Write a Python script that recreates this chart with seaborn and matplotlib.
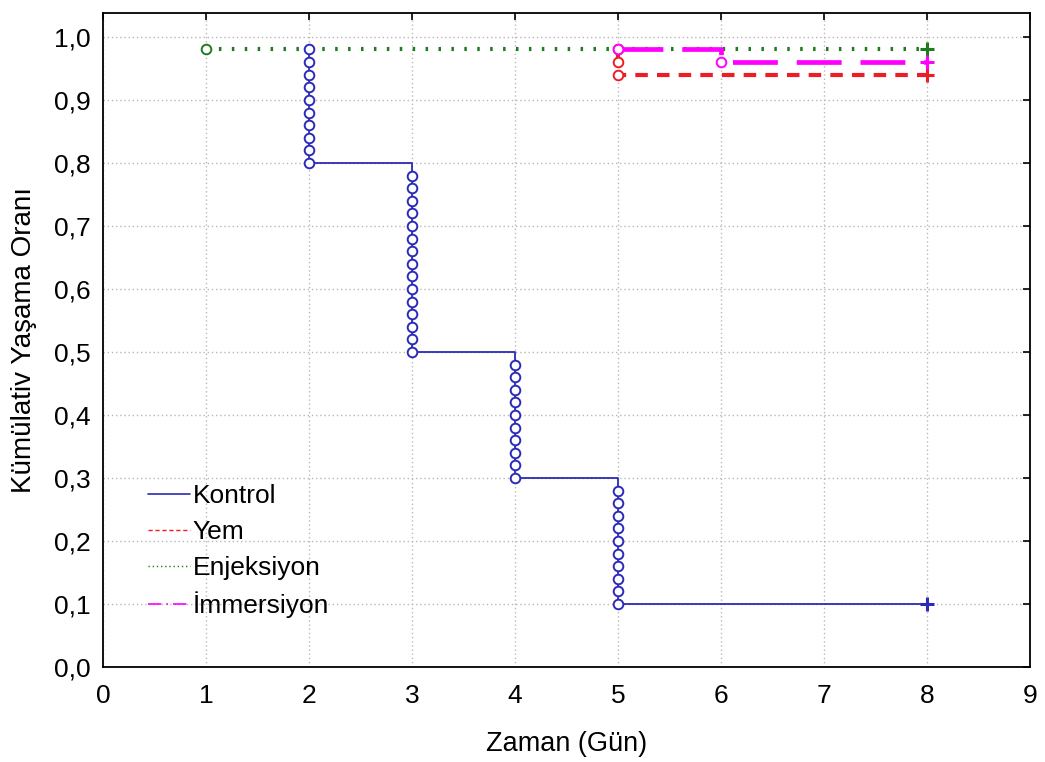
import numpy as np
import pandas as pd
import seaborn as sns
import matplotlib.pyplot as plt
from matplotlib.lines import Line2D

# fish per group, deaths per day read from the stacked circles
n_fish = 50
end_day = 8

kontrol_days = [2, 3, 4, 5]
kontrol_deaths = [10, 15, 10, 10]

yem_days = [5]
yem_deaths = [3]

enjeksiyon_days = [1]
enjeksiyon_deaths = [1]

immersiyon_days = [5, 6]
immersiyon_deaths = [1, 1]

groups = ["Kontrol", "Yem", "Enjeksiyon", "İmmersiyon"]
colors = {"Kontrol": "#2b2bb8", "Yem": "#ee1c24", "Enjeksiyon": "#1e7b1e", "İmmersiyon": "#ff00ff"}
widths = {"Kontrol": 1.3, "Yem": 3.0, "Enjeksiyon": 3.0, "İmmersiyon": 3.4}
dashes = {"Kontrol": "", "Yem": (3.0, 2.2), "Enjeksiyon": (0.6, 2.5), "İmmersiyon": (9.5, 4.0)}

event_data = {
    "Kontrol": (kontrol_days, kontrol_deaths),
    "Yem": (yem_days, yem_deaths),
    "Enjeksiyon": (enjeksiyon_days, enjeksiyon_deaths),
    "İmmersiyon": (immersiyon_days, immersiyon_deaths),
}

# every single death becomes one circle on the curve
rows = []
for g in groups:
    days, deaths = event_data[g]
    dead = 0
    for d, k in zip(days, deaths):
        for _ in range(k):
            dead += 1
            rows.append({"gun": d, "oran": (n_fish - dead) / n_fish, "grup": g, "tip": "olay"})
    rows.append({"gun": end_day, "oran": (n_fish - dead) / n_fish, "grup": g, "tip": "son"})
df = pd.DataFrame(rows)

sns.set_style("white")
plt.rcParams["font.family"] = ["Liberation Sans", "DejaVu Sans"]
plt.rcParams["text.color"] = "black"
plt.rcParams["axes.labelcolor"] = "black"

fig = plt.figure(figsize=(10.45, 7.62), dpi=100)
ax = fig.add_axes([0.0986, 0.1247, 0.887, 0.8583])

sns.lineplot(data=df, x="gun", y="oran", hue="grup", style="grup", size="grup",
             hue_order=groups, palette=colors, dashes=dashes, sizes=widths,
             estimator=None, sort=False, drawstyle="steps-post", legend=False, ax=ax, zorder=3)

events = df[df["tip"] == "olay"]
for g in groups:
    sub = events[events["grup"] == g]
    ax.scatter(sub["gun"], sub["oran"], s=48, facecolor="white", edgecolor=colors[g],
               linewidth=1.4, zorder=4)

ends = df[df["tip"] == "son"]
for g in groups:
    sub = ends[ends["grup"] == g]
    ax.scatter(sub["gun"], sub["oran"], s=110, marker="+", color=colors[g], linewidth=2.2, zorder=5)

ax.set_xlim(0, 9)
ax.set_ylim(0, 1.038)
ax.set_xticks(range(0, 10))
yt = np.round(np.arange(0, 1.01, 0.1), 1)
ax.set_yticks(yt)
ax.set_yticklabels([f"{v:.1f}".replace(".", ",") for v in yt])

ax.grid(True, linestyle=(0, (1, 2)), color="#b8b8b8", linewidth=1)
for s in ax.spines.values():
    s.set_color("black")
    s.set_linewidth(1.3)
ax.tick_params(direction="in", length=5, width=1.2, top=True, right=True,
               labelsize=19, colors="black", pad=9)
ax.tick_params(axis="x", pad=12)

ax.set_xlabel("Zaman (Gün)", fontsize=19.5, labelpad=17)
ax.set_ylabel("Kümülativ Yaşama Oranı", fontsize=20, labelpad=12)

handles = [
    Line2D([], [], color=colors["Kontrol"], linewidth=1.2),
    Line2D([], [], color=colors["Yem"], linewidth=1.0, dashes=(3, 2)),
    Line2D([], [], color=colors["Enjeksiyon"], linewidth=1.0, dashes=(1, 2)),
    Line2D([], [], color=colors["İmmersiyon"], linewidth=1.2, dashes=(8, 3, 1, 3)),
]
ax.legend(handles, groups, loc="lower left", bbox_to_anchor=(0.037, 0.058), frameon=False,
          fontsize=19, handlelength=1.6, handletextpad=0.1, labelspacing=0.45, borderaxespad=0)

plt.savefig("out.png", dpi=100)
